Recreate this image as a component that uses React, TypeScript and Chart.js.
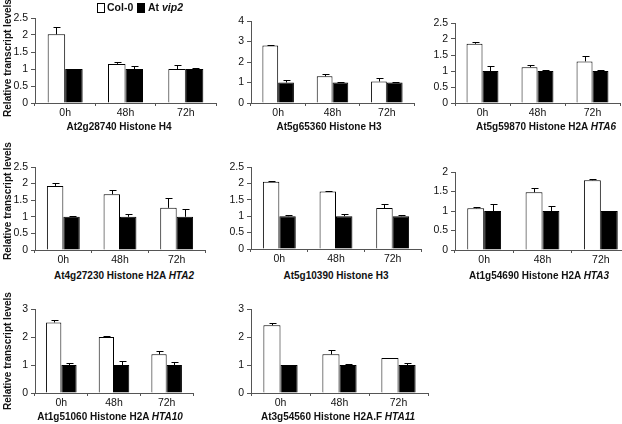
import React, { useEffect, useRef } from "react";
import { Chart, registerables } from "chart.js";
Chart.register(...registerables);

const categories = ["0h", "48h", "72h"];
const seriesNames = ["Col-0", "At vip2"];

const panelTitles = [
  "At2g28740 Histone H4",
  "At5g65360 Histone H3",
  "At5g59870 Histone H2A",
  "At4g27230 Histone H2A",
  "At5g10390 Histone H3",
  "At1g54690 Histone H2A",
  "At1g51060 Histone H2A",
  "At3g54560 Histone H2A.F",
];
const panelGenes = ["", "", "HTA6", "HTA2", "", "HTA3", "HTA10", "HTA11"];

const col0Values = [
  [2.02, 1.15, 1.0],
  [2.8, 1.3, 1.05],
  [1.85, 1.12, 1.3],
  [1.93, 1.68, 1.27],
  [2.05, 1.75, 1.25],
  [1.07, 1.48, 1.79],
  [2.52, 2.0, 1.38],
  [2.42, 1.38, 1.25],
];
const col0Errors = [
  [0.23, 0.05, 0.13],
  [0.05, 0.1, 0.15],
  [0.07, 0.06, 0.18],
  [0.1, 0.14, 0.3],
  [0.03, 0.02, 0.13],
  [0.03, 0.1, 0.03],
  [0.1, 0.05, 0.13],
  [0.07, 0.15, 0.01],
];
const vip2Values = [
  [1.0, 1.0, 1.0],
  [1.0, 1.0, 1.0],
  [1.0, 1.0, 1.0],
  [1.0, 1.0, 1.0],
  [1.0, 1.0, 1.0],
  [1.0, 1.0, 1.0],
  [1.0, 1.0, 1.0],
  [1.0, 1.0, 1.0],
];
const vip2Errors = [
  [0.01, 0.09, 0.03],
  [0.12, 0.02, 0.04],
  [0.17, 0.03, 0.02],
  [0.03, 0.09, 0.22],
  [0.03, 0.06, 0.03],
  [0.19, 0.12, 0.01],
  [0.06, 0.15, 0.12],
  [0.01, 0.05, 0.06],
];
const yMax = [2.5, 4, 2.5, 2.5, 2.5, 2, 3, 3];
const yStep = [0.5, 1, 0.5, 0.5, 0.5, 0.5, 0.5, 0.5];
const yAxisTitle = "Relative transcript levels";

// layout (pixel boxes of each plot area)
const LAYOUT = [
  { left: 35, right: 216, top: 18, bottom: 103, tx: 119, ty: 127 },
  { left: 251, right: 414, top: 21, bottom: 103, tx: 329, ty: 127 },
  { left: 455, right: 620, top: 23, bottom: 103, tx: 546, ty: 127 },
  { left: 35, right: 205, top: 167, bottom: 250, tx: 124, ty: 276 },
  { left: 251, right: 421, top: 167, bottom: 249, tx: 336, ty: 276 },
  { left: 455, right: 630, top: 172, bottom: 250, tx: 539, ty: 276 },
  { left: 35, right: 193, top: 309, bottom: 393, tx: 110, ty: 417 },
  { left: 251, right: 428, top: 309, bottom: 393, tx: 338, ty: 417 },
];
const YLABEL_CENTERS = [58, 201, 351];

const FONT = "'Liberation Sans', Arial, sans-serif";
const AXIS = "#555";

const errorBarPlugin = {
  id: "errbars",
  afterDatasetsDraw(chart: any) {
    const ctx = chart.ctx;
    const ys = chart.scales.y;
    chart.data.datasets.forEach((ds: any, di: number) => {
      const meta = chart.getDatasetMeta(di);
      meta.data.forEach((bar: any, i: number) => {
        const v = ds.data[i];
        const e = ds.errors[i];
        const top = Math.round(ys.getPixelForValue(v + e)) + 0.5;
        const x = Math.round(bar.x) + 0.5;
        ctx.save();
        ctx.strokeStyle = "#000";
        ctx.lineWidth = 1;
        ctx.beginPath();
        ctx.moveTo(x, bar.y);
        ctx.lineTo(x, top);
        ctx.moveTo(x - 3, top);
        ctx.lineTo(x + 4, top);
        ctx.stroke();
        ctx.restore();
      });
    });
  },
};

function Panel({ idx }: { idx: number }) {
  const ref = useRef<HTMLCanvasElement>(null);
  const g = LAYOUT[idx];
  const padL = 32;
  const padT = 10;
  const padB = 20;
  const padR = 4;
  const w = g.right - g.left + padL + padR;
  const h = g.bottom - g.top + padT + padB;
  useEffect(() => {
    const chart = new Chart(ref.current as HTMLCanvasElement, {
      type: "bar",
      data: {
        labels: categories,
        datasets: [
          {
            label: seriesNames[0],
            data: col0Values[idx],
            backgroundColor: "#fff",
            borderColor: "#000",
            borderWidth: 1,
            errors: col0Errors[idx],
          } as any,
          {
            label: seriesNames[1],
            data: vip2Values[idx],
            backgroundColor: "#000",
            borderColor: "#000",
            borderWidth: 1,
            errors: vip2Errors[idx],
          } as any,
        ],
      },
      options: {
        animation: false,
        responsive: false,
        devicePixelRatio: 1,
        layout: { padding: { top: padT, right: padR, left: 0, bottom: 0 } },
        plugins: { legend: { display: false }, tooltip: { enabled: false } },
        datasets: { bar: { categoryPercentage: 0.58, barPercentage: 1 } },
        scales: {
          x: {
            grid: { offset: true, drawOnChartArea: false, drawTicks: true, tickLength: 3, color: AXIS },
            border: { color: AXIS },
            ticks: { font: { family: FONT, size: 10.5 }, color: "#111", padding: 1 },
            afterFit: (s: any) => {
              s.height = padB;
            },
          },
          y: {
            min: 0,
            max: yMax[idx],
            ticks: {
              stepSize: yStep[idx],
              font: { family: FONT, size: 10.5 },
              color: "#111",
              padding: 3,
              callback: (v: any) => String(Math.round(Number(v) * 10) / 10),
            },
            grid: { drawOnChartArea: false, tickLength: 4, color: AXIS },
            border: { color: AXIS },
            afterFit: (s: any) => {
              s.width = padL;
            },
          },
        },
      } as any,
      plugins: [errorBarPlugin],
    });
    return () => chart.destroy();
  }, []);
  return (
    <canvas
      ref={ref}
      width={w}
      height={h}
      style={{ position: "absolute", left: g.left - padL, top: g.top - padT, width: w, height: h }}
    />
  );
}

export default function App() {
  return (
    <div
      style={{
        position: "absolute",
        left: 0,
        top: 0,
        width: 622,
        height: 424,
        overflow: "hidden",
        background: "#fff",
        fontFamily: FONT,
        color: "#111",
      }}
    >
      {LAYOUT.map((_, i) => (
        <Panel key={i} idx={i} />
      ))}
      {LAYOUT.map((g, i) => (
        <div
          key={"t" + i}
          style={{
            position: "absolute",
            left: g.tx,
            top: g.ty,
            transform: "translate(-50%, -50%)",
            whiteSpace: "nowrap",
            fontWeight: "bold",
            fontSize: 10,
            lineHeight: "12px",
          }}
        >
          {panelTitles[i]}
          {panelGenes[i] ? (
            <>
              {" "}
              <i>{panelGenes[i]}</i>
            </>
          ) : null}
        </div>
      ))}
      {YLABEL_CENTERS.map((cy, i) => (
        <div
          key={"y" + i}
          style={{
            position: "absolute",
            left: 8,
            top: cy,
            transform: "translate(-50%, -50%) rotate(-90deg)",
            whiteSpace: "nowrap",
            fontWeight: "bold",
            fontSize: 10,
            lineHeight: "12px",
          }}
        >
          {yAxisTitle}
        </div>
      ))}
      {/* legend */}
      <div style={{ position: "absolute", left: 97, top: 3, width: 6, height: 8, border: "1px solid #000", background: "#fff" }} />
      <div style={{ position: "absolute", left: 107, top: 1, fontWeight: "bold", fontSize: 10.5, lineHeight: "12px", whiteSpace: "nowrap" }}>
        {seriesNames[0]}
      </div>
      <div style={{ position: "absolute", left: 137, top: 3, width: 8, height: 10, background: "#000" }} />
      <div style={{ position: "absolute", left: 148, top: 1, fontWeight: "bold", fontSize: 10.5, lineHeight: "12px", whiteSpace: "nowrap" }}>
        At <i>vip2</i>
      </div>
    </div>
  );
}
